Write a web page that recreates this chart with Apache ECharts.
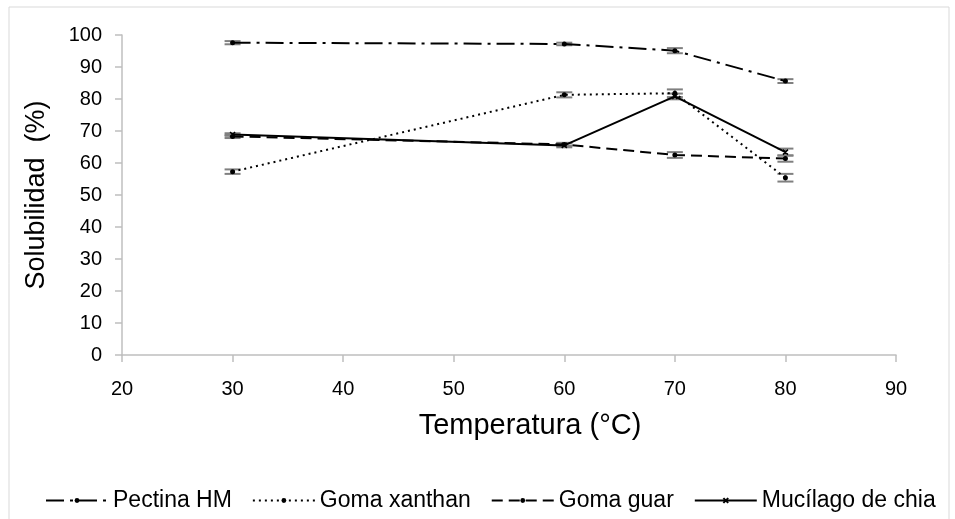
<!DOCTYPE html>
<html><head><meta charset="utf-8">
<script src="https://cdn.jsdelivr.net/npm/echarts@6/dist/echarts.min.js"></script>
<style>html,body{margin:0;padding:0;background:#fff}#c{width:955px;height:519px}</style>
</head><body><div id="c"></div>
<script>
var temps = [30, 60, 70, 80];
var pectina = [97.6, 97.2, 95.1, 85.6];
var pectinaErr = [0.5, 0.4, 0.8, 0.6];
var xanthan = [57.3, 81.3, 81.8, 55.4];
var xanthanErr = [0.7, 0.8, 1.2, 1.2];
var guar = [68.3, 65.8, 62.5, 61.4];
var guarErr = [0.5, 0.5, 0.9, 1.0];
var chia = [68.9, 65.5, 80.8, 63.4];
var chiaErr = [0.4, 0.6, 0.9, 1.1];
var seriesNames = ['Pectina HM', 'Goma xanthan', 'Goma guar', 'Mucílago de chia'];
var xTicks = [20, 30, 40, 50, 60, 70, 80, 90];
var yTicks = [0, 10, 20, 30, 40, 50, 60, 70, 80, 90, 100];
var xTitle = 'Temperatura (°C)';
var yTitle = 'Solubilidad  (%)';

var chart = echarts.init(document.getElementById('c'));
function pts(v){ return temps.map(function(t,i){ return [t, v[i]]; }); }
function errData(v, e){ return temps.map(function(t,i){ return [t, v[i]-e[i], v[i]+e[i]]; }); }
function errSeries(v, e){
  return {
    type: 'custom', silent: true, z: 1,
    data: errData(v, e),
    renderItem: function(params, api){
      var lo = api.coord([api.value(0), api.value(1)]);
      var hi = api.coord([api.value(0), api.value(2)]);
      var w = 8;
      var st = {stroke: '#808080', lineWidth: 2};
      return {type: 'group', children: [
        {type: 'line', shape: {x1: lo[0], y1: lo[1], x2: hi[0], y2: hi[1]}, style: st},
        {type: 'line', shape: {x1: lo[0]-w, y1: lo[1], x2: lo[0]+w, y2: lo[1]}, style: st},
        {type: 'line', shape: {x1: hi[0]-w, y1: hi[1], x2: hi[0]+w, y2: hi[1]}, style: st}
      ]};
    }
  };
}
var styles = [
  {type: [18, 6, 3, 6], sym: 'circle', size: 5},
  {type: [2, 4], sym: 'circle', size: 5},
  {type: [11, 6], sym: 'circle', size: 5},
  {type: 'solid', sym: 'path://M0,0L10,10M10,0L0,10Z', size: 5}
];
var vals = [pectina, xanthan, guar, chia];
var errs = [pectinaErr, xanthanErr, guarErr, chiaErr];
var series = [];
vals.forEach(function(v, i){
  series.push({
    name: seriesNames[i], type: 'line', z: 3,
    data: pts(v),
    symbol: styles[i].sym, symbolSize: styles[i].size, showSymbol: true,
    itemStyle: {color: '#000', borderColor: '#000', borderWidth: i === 3 ? 1.5 : 0},
    lineStyle: {color: '#000', width: 2, type: styles[i].type},
    animation: false
  });
});
vals.forEach(function(v, i){ series.push(errSeries(v, errs[i])); });

var axisLine = {show: true, lineStyle: {color: '#bfbfbf', width: 1.5}};
chart.setOption({
  animation: false,
  textStyle: {fontFamily: 'Liberation Sans'},
  grid: {left: 122, right: 59, top: 35, bottom: 164, containLabel: false},
  graphic: [{type: 'rect', shape: {x: 9, y: 7, width: 940, height: 520}, style: {fill: 'none', stroke: '#d9d9d9', lineWidth: 1}}],
  title: {
    text: xTitle, left: 525, top: 406, textAlign: 'center',
    textStyle: {color: '#000', fontSize: 29, fontWeight: 'normal', fontFamily: 'Liberation Sans'}
  },
  xAxis: {
    type: 'value', min: xTicks[0], max: xTicks[xTicks.length-1], interval: 10,
    axisLine: axisLine,
    axisTick: {show: true, length: 7, lineStyle: {color: '#bfbfbf', width: 1.5}},
    splitLine: {show: false},
    axisLabel: {color: '#000', fontSize: 20, margin: 24, fontFamily: 'Liberation Sans'}
  },
  yAxis: {
    type: 'value', min: yTicks[0], max: yTicks[yTicks.length-1], interval: 10,
    axisLine: axisLine,
    axisTick: {show: true, length: 7, lineStyle: {color: '#bfbfbf', width: 1.5}},
    splitLine: {show: false},
    axisLabel: {color: '#000', fontSize: 20, margin: 20, fontFamily: 'Liberation Sans'},
    name: yTitle, nameLocation: 'middle', nameGap: 72,
    nameTextStyle: {color: '#000', fontSize: 27, fontFamily: 'Liberation Sans'}
  },
  legend: {
    data: seriesNames, left: 40, top: 484, itemWidth: 62, itemHeight: 6, itemGap: 20,
    textStyle: {color: '#000', fontSize: 23, fontFamily: 'Liberation Sans'}
  },
  series: series
});
</script></body></html>
